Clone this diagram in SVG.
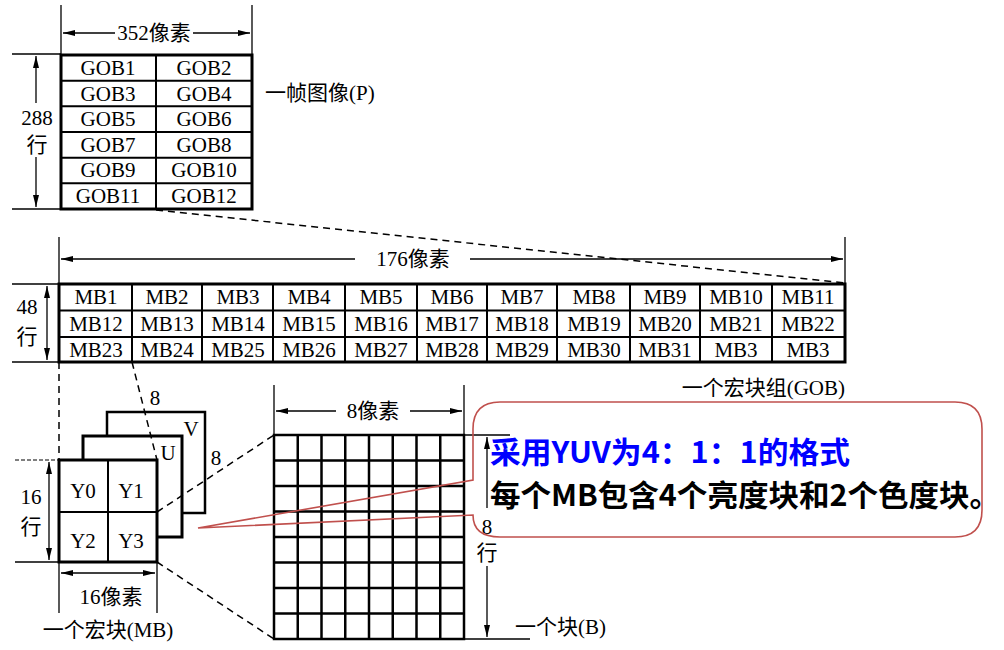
<svg xmlns="http://www.w3.org/2000/svg" width="1004" height="650" viewBox="0 0 1004 650">
<defs>
<marker id="arr" viewBox="0 0 12 6" refX="12" refY="3" markerWidth="12" markerHeight="6" markerUnits="userSpaceOnUse" orient="auto-start-reverse"><path d="M0,0 L12,3 L0,6 Z" fill="#000"/></marker>
</defs>
<style>
.t{font-family:"Liberation Serif","Noto Sans CJK SC",serif;font-size:21px;fill:#000;text-anchor:middle;dominant-baseline:central}
.s{text-anchor:start}
.e{text-anchor:end}
.dim{stroke:#000;stroke-width:1.3;fill:none}
.box{stroke:#000;stroke-width:3;fill:#fff}
.cell{stroke:#000;stroke-width:2;fill:none}
.dash{stroke:#000;stroke-width:1.5;stroke-dasharray:7 5;fill:none}
.call{stroke:#c0504d;stroke-width:1.6;fill:none}
.c1{font-family:"Noto Sans CJK SC",sans-serif;font-weight:bold;font-size:30px}
</style>
<rect width="1004" height="650" fill="#fff"/>

<g id="frame">
  <line class="dim" x1="61" y1="5" x2="61" y2="54"/>
  <line class="dim" x1="252" y1="5" x2="252" y2="54"/>
  <line class="dim" x1="63" y1="33" x2="115" y2="33" marker-start="url(#arr)"/>
  <line class="dim" x1="193" y1="33" x2="250" y2="33" marker-end="url(#arr)"/>
  <text class="t" x="154" y="33">352像素</text>
  <line class="dim" x1="12" y1="54" x2="61" y2="54"/>
  <line class="dim" x1="12" y1="209" x2="61" y2="209"/>
  <line class="dim" x1="36" y1="56" x2="36" y2="103" marker-start="url(#arr)"/>
  <line class="dim" x1="36" y1="157" x2="36" y2="207" marker-end="url(#arr)"/>
  <text class="t" x="37" y="118">288</text>
  <text class="t" x="37" y="145">行</text>
  <rect class="box" x="61" y="55" width="191" height="154"/>
  <path class="cell" d="M156,55V209M61,80.7H252M61,106.3H252M61,132H252M61,157.7H252M61,183.3H252"/>
  <text class="t" x="108" y="68">GOB1</text><text class="t" x="204" y="68">GOB2</text>
  <text class="t" x="108" y="94">GOB3</text><text class="t" x="204" y="94">GOB4</text>
  <text class="t" x="108" y="119">GOB5</text><text class="t" x="204" y="119">GOB6</text>
  <text class="t" x="108" y="145">GOB7</text><text class="t" x="204" y="145">GOB8</text>
  <text class="t" x="108" y="170">GOB9</text><text class="t" x="204" y="170">GOB10</text>
  <text class="t" x="108" y="196">GOB11</text><text class="t" x="204" y="196">GOB12</text>
  <text class="t s" x="265" y="93">一帧图像(P)</text>
</g>

<g id="gob">
  <line class="dim" x1="59" y1="237" x2="59" y2="284"/>
  <line class="dim" x1="845" y1="237" x2="845" y2="284"/>
  <line class="dim" x1="61" y1="259" x2="355" y2="259" marker-start="url(#arr)"/>
  <line class="dim" x1="470" y1="259" x2="843" y2="259" marker-end="url(#arr)"/>
  <text class="t" x="413" y="259">176像素</text>
  <line class="dim" x1="12" y1="284" x2="59" y2="284"/>
  <line class="dim" x1="12" y1="362" x2="59" y2="362"/>
  <line class="dim" x1="47" y1="286" x2="47" y2="360" marker-start="url(#arr)" marker-end="url(#arr)"/>
  <text class="t" x="27" y="307">48</text>
  <text class="t" x="27" y="337">行</text>
  <rect class="box" x="59" y="284" width="786" height="78"/>
  <path class="cell" d="M59,310.5H845M59,337H845M132,284V362M202,284V362M273,284V362M345,284V362M417,284V362M487,284V362M557,284V362M630,284V362M700,284V362M772,284V362"/>
  <g>
    <text class="t" x="96" y="297">MB1</text><text class="t" x="167" y="297">MB2</text><text class="t" x="238" y="297">MB3</text><text class="t" x="309" y="297">MB4</text><text class="t" x="381" y="297">MB5</text><text class="t" x="452" y="297">MB6</text><text class="t" x="522" y="297">MB7</text><text class="t" x="594" y="297">MB8</text><text class="t" x="665" y="297">MB9</text><text class="t" x="736" y="297">MB10</text><text class="t" x="808" y="297">MB11</text>
    <text class="t" x="96" y="324">MB12</text><text class="t" x="167" y="324">MB13</text><text class="t" x="238" y="324">MB14</text><text class="t" x="309" y="324">MB15</text><text class="t" x="381" y="324">MB16</text><text class="t" x="452" y="324">MB17</text><text class="t" x="522" y="324">MB18</text><text class="t" x="594" y="324">MB19</text><text class="t" x="665" y="324">MB20</text><text class="t" x="736" y="324">MB21</text><text class="t" x="808" y="324">MB22</text>
    <text class="t" x="96" y="350">MB23</text><text class="t" x="167" y="350">MB24</text><text class="t" x="238" y="350">MB25</text><text class="t" x="309" y="350">MB26</text><text class="t" x="381" y="350">MB27</text><text class="t" x="452" y="350">MB28</text><text class="t" x="522" y="350">MB29</text><text class="t" x="594" y="350">MB30</text><text class="t" x="665" y="350">MB31</text><text class="t" x="736" y="350">MB3</text><text class="t" x="808" y="350">MB3</text>
  </g>
  <text class="t e" x="845" y="388">一个宏块组(GOB)</text>
</g>

<g id="macroblock">
  <rect x="107" y="412" width="98" height="101" fill="#fff" stroke="#000" stroke-width="2.5"/>
  <rect x="83" y="436" width="99" height="101" fill="#fff" stroke="#000" stroke-width="3"/>
  <rect class="box" x="59" y="460" width="98" height="102"/>
  <path class="cell" d="M108,460V562M59,512H157"/>
  <text class="t" x="83" y="491">Y0</text><text class="t" x="131" y="491">Y1</text>
  <text class="t" x="83" y="541">Y2</text><text class="t" x="131" y="541">Y3</text>
  <text class="t" x="168" y="453">U</text>
  <text class="t" x="191" y="429">V</text>
  <text class="t" x="155" y="398">8</text>
  <text class="t" x="216" y="458">8</text>
  <line x1="15" y1="460" x2="59" y2="460" stroke="#000" stroke-width="1.2" stroke-dasharray="4 2"/>
  <line class="dim" x1="15" y1="562" x2="59" y2="562"/>
  <line class="dim" x1="49" y1="462" x2="49" y2="560" marker-start="url(#arr)" marker-end="url(#arr)"/>
  <text class="t" x="31" y="497">16</text>
  <text class="t" x="31" y="527">行</text>
  <line class="dim" x1="59" y1="562" x2="59" y2="613"/>
  <line class="dim" x1="157" y1="562" x2="157" y2="613"/>
  <line class="dim" x1="61" y1="573" x2="155" y2="573" marker-start="url(#arr)" marker-end="url(#arr)"/>
  <text class="t" x="111" y="597">16像素</text>
  <text class="t" x="108" y="630">一个宏块(MB)</text>
</g>

<g id="block">
  <line class="dim" x1="274" y1="385" x2="274" y2="435"/>
  <line class="dim" x1="464" y1="385" x2="464" y2="435"/>
  <line class="dim" x1="276" y1="411" x2="336" y2="411" marker-start="url(#arr)"/>
  <line class="dim" x1="410" y1="411" x2="462" y2="411" marker-end="url(#arr)"/>
  <text class="t" x="373" y="411">8像素</text>
  <rect x="274" y="435" width="190" height="204" fill="none" stroke="#000" stroke-width="2.5"/>
  <path fill="none" stroke="#000" stroke-width="2.5" d="M297.75,435V639M321.5,435V639M345.25,435V639M369,435V639M392.75,435V639M416.5,435V639M440.25,435V639M274,460.5H464M274,486H464M274,511.5H464M274,537H464M274,562.5H464M274,588H464M274,613.5H464"/>
  <line class="dim" x1="464" y1="435" x2="510" y2="435"/>
  <line class="dim" x1="464" y1="639" x2="530" y2="639"/>
  <line class="dim" x1="487" y1="437" x2="487" y2="508" marker-start="url(#arr)"/>
  <line class="dim" x1="487" y1="566" x2="487" y2="637" marker-end="url(#arr)"/>
  <text class="t" x="487" y="527">8</text>
  <text class="t" x="487" y="553">行</text>
  <text class="t s" x="515" y="627">一个块(B)</text>
</g>

<g id="connectors">
  <line class="dash" x1="156" y1="210" x2="845" y2="283"/>
  <line class="dash" x1="59" y1="362" x2="59" y2="460"/>
  <line class="dash" x1="132" y1="362" x2="157" y2="460"/>
  <line class="dash" x1="157" y1="512" x2="274" y2="435"/>
  <line class="dash" x1="157" y1="562" x2="274" y2="639"/>
</g>

<g id="callout">
  <path class="call" d="M500,402H955Q982,402 982,429V510Q982,537 955,537H500Q473,537 473,515L198,528L473,480V429Q473,402 500,402Z"/>
  <text class="c1" x="490" y="463" fill="#0000ff" textLength="360" lengthAdjust="spacingAndGlyphs">采用YUV为4：1：1的格式</text>
  <text class="c1" x="490" y="506" fill="#000" textLength="510" lengthAdjust="spacingAndGlyphs">每个MB包含4个亮度块和2个色度块。</text>
</g>
</svg>
